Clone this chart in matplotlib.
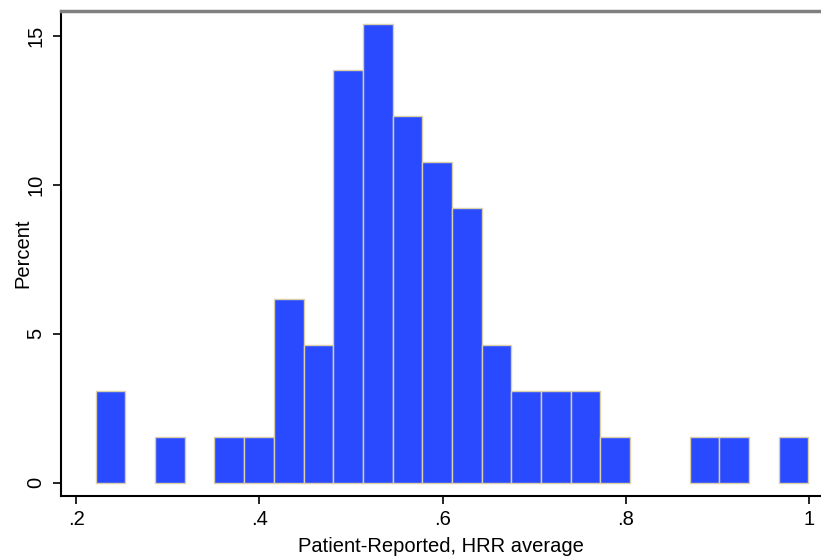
import numpy as np
import matplotlib
matplotlib.use('Agg')
import matplotlib.pyplot as plt

# Histogram of patient-reported HRR averages, 24 bins, N = 65
bin_start = 0.2215
bin_width = 0.0324
counts = [2, 0, 1, 0, 1, 1, 4, 3, 9, 10, 8, 7, 6, 3, 2, 2, 2, 1, 0, 0, 1, 1, 0, 1]
n_obs = 65

x_ticks = [0.2, 0.4, 0.6, 0.8, 1.0]
x_tick_labels = ['.2', '.4', '.6', '.8', '1']
y_ticks = [0, 5, 10, 15]

plt.rcParams['font.family'] = ['Liberation Sans', 'DejaVu Sans']

percent = np.array(counts) / n_obs * 100
lefts = bin_start + bin_width * np.arange(len(counts))

fig = plt.figure(figsize=(8.21, 5.56), dpi=100)
ax = fig.add_axes([61 / 821, 60 / 556, 1 - 61 / 821, 485 / 556])

mask = percent > 0
ax.bar(lefts[mask], percent[mask], width=bin_width, align='edge',
       color='#2a4aff', edgecolor='#d9d0aa', linewidth=1.0)

ax.set_xlim(0.1836, 1.013)
ax.set_ylim(-0.446, 15.83)
ax.set_xticks(x_ticks)
ax.set_xticklabels(x_tick_labels)
ax.set_yticks(y_ticks)
ax.set_yticklabels([str(v) for v in y_ticks], rotation=90, va='center')

ax.tick_params(axis='both', labelsize=14.5, length=6, width=1.2, colors='black')
ax.tick_params(axis='x', pad=4)
ax.tick_params(axis='y', pad=5)

ax.spines['left'].set_linewidth(1.5)
ax.spines['bottom'].set_linewidth(1.5)
ax.spines['top'].set_color('#808080')
ax.spines['top'].set_linewidth(2.5)
ax.spines['right'].set_visible(False)

ax.set_xlabel('Patient-Reported, HRR average', fontsize=14.5, labelpad=6)
ax.set_ylabel('Percent', fontsize=14.5, labelpad=-4)

fig.savefig('out.png', dpi=100)
